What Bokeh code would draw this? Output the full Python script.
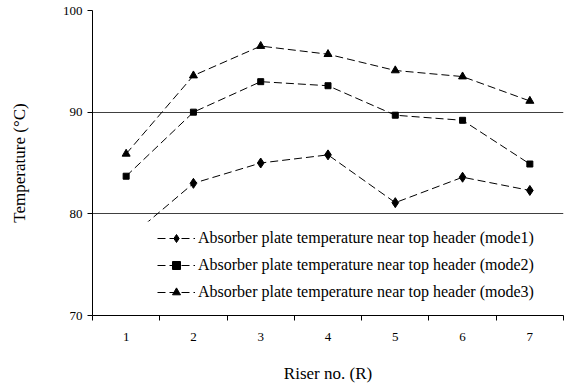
from bokeh.embed import file_html
from bokeh.models import (BoxAnnotation, FixedTicker, Legend, LegendItem,
                          Range1d)
from bokeh.plotting import figure
from bokeh.resources import INLINE

# Riser numbers and absorber plate temperatures (deg C) for the three modes
risers = [1, 2, 3, 4, 5, 6, 7]
mode1 = [77.4, 83.0, 85.0, 85.8, 81.1, 83.6, 82.3]
mode2 = [83.7, 90.0, 93.0, 92.6, 89.7, 89.2, 84.9]
mode3 = [85.9, 93.6, 96.5, 95.7, 94.1, 93.5, 91.1]
y_ticks = [70, 80, 90, 100]
labels = [
    "Absorber plate temperature near top header (mode1)",
    "Absorber plate temperature near top header (mode2)",
    "Absorber plate temperature near top header (mode3)",
]

FONT = "Liberation Serif"

p = figure(width=576, height=385, output_backend="svg", toolbar_location=None,
           x_range=Range1d(0.5, 7.5), y_range=Range1d(70, 100),
           min_border_left=92, min_border_right=13, min_border_top=10,
           min_border_bottom=69)
p.outline_line_color = None
p.background_fill_color = "white"
p.border_fill_color = "white"

# x axis: labels at riser centres, tick marks between categories
p.xaxis.ticker = FixedTicker(ticks=risers,
                             minor_ticks=[r - 0.5 for r in risers] + [risers[-1] + 0.5])
p.xaxis.major_tick_out = 0
p.xaxis.major_tick_in = 0
p.xaxis.minor_tick_out = 5
p.xaxis.minor_tick_in = 0
p.xaxis.major_label_standoff = 12
p.xaxis.axis_label = "Riser no. (R)"
p.xaxis.axis_label_standoff = 20

p.yaxis.ticker = FixedTicker(ticks=y_ticks)
p.yaxis.major_tick_out = 5
p.yaxis.major_tick_in = 0
p.yaxis.minor_tick_out = 0
p.yaxis.minor_tick_in = 0
p.yaxis.major_label_standoff = 5
p.yaxis.axis_label = "Temperature (°C)"
p.yaxis.axis_label_standoff = 31

for ax in (p.xaxis, p.yaxis):
    ax.axis_line_color = "black"
    ax.major_tick_line_color = "black"
    ax.minor_tick_line_color = "black"
    ax.major_label_text_font = FONT
    ax.major_label_text_font_size = "13px"
    ax.major_label_text_color = "black"
    ax.axis_label_text_font = FONT
    ax.axis_label_text_font_size = "17px"
    ax.axis_label_text_font_style = "normal"
    ax.axis_label_text_color = "black"

p.xgrid.grid_line_color = None
p.ygrid.grid_line_color = "#404040"
p.ygrid.grid_line_width = 1

dash = "8 4"
series = [
    (mode1, dict(marker="diamond", size=10)),
    (mode2, dict(marker="square", size=6)),
    (mode3, dict(marker="triangle", size=8)),
]

items = []
for (vals, mk), lab in zip(series, labels):
    ln = p.line(risers, vals, line_color="black", line_width=1, line_dash=dash)
    sc = p.scatter(risers, vals, fill_color="black", line_color="black", **mk)
    items.append(LegendItem(label=lab, renderers=[ln, sc]))

# white panel under the legend
cover = BoxAnnotation(left=13, right=455, bottom=19, top=94,
                      left_units="screen", right_units="screen",
                      bottom_units="screen", top_units="screen",
                      fill_color="white", fill_alpha=1.0, line_color=None)
p.add_layout(cover)

legend = Legend(items=items, location=(65, 13), margin=0, padding=6,
                spacing=7, glyph_width=38, glyph_height=20, label_height=20,
                label_standoff=3, border_line_color=None,
                background_fill_color="white", background_fill_alpha=0.0,
                label_text_font=FONT, label_text_font_size="16px",
                label_text_color="black")
p.add_layout(legend, "center")

open("out.html", "w").write(file_html(p, INLINE))
